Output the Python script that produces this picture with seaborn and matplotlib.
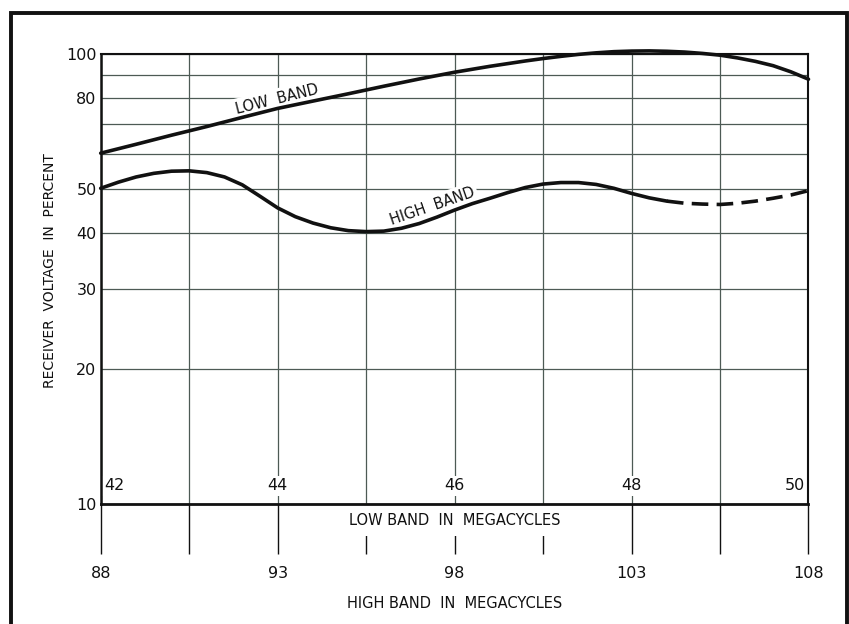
import numpy as np
import pandas as pd
import matplotlib
matplotlib.use("Agg")
import matplotlib.pyplot as plt
import matplotlib.transforms as mtransforms
from matplotlib.patches import Rectangle
import seaborn as sns

# ---------------- data ----------------
# x values are on the HIGH BAND scale (88-108 Mc); low band 42-50 maps onto it
low_band_x = [88, 89, 90, 91, 92, 93, 94, 95, 96, 97, 98, 99, 100, 100.5, 101,
              101.5, 102, 102.5, 103, 103.5, 104, 104.5, 105, 105.5, 106, 106.5,
              107, 107.5, 108]
low_band_y = [60.2, 63.0, 66.0, 69.0, 72.3, 75.7, 78.6, 81.6, 84.8, 88.0, 91.1,
              93.9, 96.5, 97.7, 98.8, 99.8, 100.6, 101.2, 101.5, 101.6, 101.4,
              101.0, 100.3, 99.4, 98.0, 96.3, 94.2, 91.3, 87.9]

high_band_solid_x = [88, 88.5, 89, 89.5, 90, 90.5, 91, 91.5, 92, 92.5, 93, 93.5,
                     94, 94.5, 95, 95.5, 96, 96.5, 97, 97.5, 98, 98.5, 99, 99.5,
                     100, 100.5, 101, 101.5, 102, 102.5, 103, 103.5, 104]
high_band_solid_y = [50.3, 51.9, 53.3, 54.3, 54.9, 55.0, 54.5, 53.3, 51.2, 48.3,
                     45.5, 43.5, 42.1, 41.1, 40.5, 40.3, 40.4, 41.0, 42.0, 43.4,
                     45.0, 46.5, 47.8, 49.2, 50.5, 51.4, 51.8, 51.8, 51.3, 50.3,
                     49.0, 47.9, 47.1]
high_band_dash_x = [104, 104.5, 105, 105.5, 106, 106.5, 107, 107.5, 108]
high_band_dash_y = [47.1, 46.6, 46.4, 46.3, 46.6, 47.1, 47.8, 48.6, 49.7]

y_ticks = [10, 20, 30, 40, 50, 60, 70, 80, 90, 100]
y_tick_labels = ["10", "20", "30", "40", "50", "", "", "80", "", "100"]
x_ticks = [88, 90.5, 93, 95.5, 98, 100.5, 103, 105.5, 108]
x_tick_labels = ["88", "", "93", "", "98", "", "103", "", "108"]
low_band_tick_pos = [88, 93, 98, 103, 108]
low_band_tick_labels = ["42", "44", "46", "48", "50"]

# ---------------- styling ----------------
sns.set_theme(style="white")
plt.rcParams["font.family"] = ["DejaVu Sans"]

W, H = 849, 624
fig = plt.figure(figsize=(W / 100, H / 100), dpi=100)
ax = fig.add_axes([100.7 / W, 1 - 504 / H, (808.5 - 100.7) / W, 450 / H])

ink = "#111111"
grid_c = "#4d5a55"

low_df = pd.DataFrame({"x": low_band_x, "y": low_band_y})
hs_df = pd.DataFrame({"x": high_band_solid_x, "y": high_band_solid_y})
hd_df = pd.DataFrame({"x": high_band_dash_x, "y": high_band_dash_y})

sns.lineplot(data=low_df, x="x", y="y", ax=ax, color=ink, lw=2.6,
             estimator=None, sort=False, zorder=3, clip_on=False)
sns.lineplot(data=hs_df, x="x", y="y", ax=ax, color=ink, lw=2.6,
             estimator=None, sort=False, zorder=3, clip_on=False)
sns.lineplot(data=hd_df, x="x", y="y", ax=ax, color=ink, lw=2.6,
             estimator=None, sort=False, zorder=3, ls=(0, (4.6, 2.3)),
             clip_on=False)

ax.set_yscale("log")
ax.set_ylim(10, 100)
ax.set_xlim(88, 108)
ax.minorticks_off()
ax.set_yticks(y_ticks)
ax.set_yticklabels(y_tick_labels)
ax.set_xticks(x_ticks)
ax.set_xticklabels(x_tick_labels)
ax.set_xlabel("")
ax.set_ylabel("")
ax.set_axisbelow(True)
ax.grid(True, which="major", color=grid_c, lw=0.9)

ax.tick_params(axis="x", direction="out", length=36, width=1.0, pad=8.5,
               labelsize=11.5, color=ink, labelcolor=ink, bottom=True)
ax.tick_params(axis="y", direction="out", length=0, width=1.0, pad=3,
               labelsize=11.5, color=ink, labelcolor=ink, left=True)

for side, lw in [("left", 1.8), ("bottom", 2.0), ("top", 1.5), ("right", 1.5)]:
    ax.spines[side].set_visible(True)
    ax.spines[side].set_color(ink)
    ax.spines[side].set_linewidth(lw)

blend = mtransforms.blended_transform_factory(ax.transData, ax.transAxes)
white_box = dict(boxstyle="square,pad=0.15", fc="white", ec="none")

# low band scale labels inside the plot
for pos, lab in zip(low_band_tick_pos, low_band_tick_labels):
    if pos == low_band_tick_pos[0]:
        ha, xx = "left", pos + 0.1
    elif pos == low_band_tick_pos[-1]:
        ha, xx = "right", pos - 0.1
    else:
        ha, xx = "center", pos
    ax.text(xx, 0.04, lab, transform=blend, ha=ha, va="center",
            fontsize=11.5, color=ink, bbox=white_box, zorder=1.6)

ax.text(98, -0.036, "LOW BAND  IN  MEGACYCLES", transform=blend, ha="center",
        va="center", fontsize=10.5, color=ink, clip_on=False, zorder=2,
        bbox=dict(boxstyle="square,pad=0.55", fc="white", ec="none"))
ax.text(98, -0.22, "HIGH BAND  IN  MEGACYCLES", transform=blend, ha="center",
        va="center", fontsize=10.5, color=ink, clip_on=False)

# curve labels
ax.text(92.97, 79.4, "LOW  BAND", rotation=14, rotation_mode="anchor",
        ha="center", va="center", fontsize=10.5, color=ink,
        bbox=dict(boxstyle="square,pad=0.2", fc="white", ec="none"), zorder=1.6)
ax.text(97.37, 45.9, "HIGH  BAND", rotation=19, rotation_mode="anchor",
        ha="center", va="center", fontsize=10.5, color=ink,
        bbox=dict(boxstyle="square,pad=0.2", fc="white", ec="none"), zorder=1.6)

fig.text(50 / W, 1 - 271 / H, "RECEIVER  VOLTAGE  IN  PERCENT", rotation=90,
         ha="center", va="center", fontsize=10, color=ink)

# outer frame
fig.add_artist(Rectangle((11 / W, -0.1), (846.5 - 11) / W, 1.1 - 13.3 / H,
                         transform=fig.transFigure, fill=False, lw=2.8,
                         ec=ink, clip_on=False))

fig.savefig("out.png", dpi=100, facecolor="white")
